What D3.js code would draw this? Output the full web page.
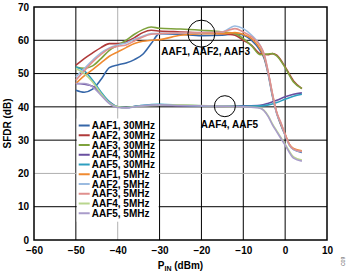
<!DOCTYPE html>
<html>
<head>
<meta charset="utf-8">
<script src="https://cdn.jsdelivr.net/npm/d3@7"></script>
<style>
  body { margin: 0; background: #fff; }
  svg text { font-family: "Liberation Sans", Arial, sans-serif; font-weight: bold; fill: #000; }
</style>
</head>
<body>
<div id="chart"></div>
<script>
// Series data: [P_IN (dBm), SFDR (dB)]
const aaf1_30 = [[-50,45],[-48,44.4],[-46,45.3],[-44,48.2],[-42,51.8],[-40,52.6],[-38,53.2],[-36,54.2],[-34,55.8],[-32,59],[-30,62],[-25,61.8],[-20,61.4],[-15,61.5],[-12,62],[-10,61.6],[-8,60],[-6,57],[-5,54.5],[-4,49.5],[-3,43],[-2,38],[-1,34.5],[0,31.5],[1,28.6],[2,27.2],[4,26.3]];
const aaf2_30 = [[-50,52.5],[-48,54.5],[-46,56.2],[-44,57.8],[-42,59],[-40,59],[-38,59.5],[-36,60.8],[-34,62.3],[-32,63],[-30,62.8],[-25,62.5],[-20,62.2],[-15,62],[-12,61.5],[-10,60],[-8,58.5],[-6,56],[-4,55.7],[-3,56],[-2,55.5],[0,52],[2,47.8],[4,45.5]];
const aaf3_30 = [[-50,52],[-48,51.6],[-46,52.3],[-44,54.5],[-42,57],[-40,58.5],[-38,60],[-36,61.8],[-34,63.2],[-32,64],[-30,63.6],[-25,63.4],[-20,63],[-15,62.5],[-12,62],[-10,60.5],[-8,58.3],[-6,55.7],[-4,55.9],[-3,56],[-2,55.3],[0,51.8],[2,47.5],[4,45.5]];
const aaf4_30 = [[-50,47],[-48,46.8],[-46,46.2],[-44,44],[-42,41.5],[-40,40],[-38,39.8],[-35,40.3],[-30,40.5],[-25,40.3],[-20,40.3],[-15,40.2],[-10,40.3],[-6,40.5],[-4,41.1],[-2,42],[0,43],[2,43.8],[4,44.2]];
const aaf5_30 = [[-50,52],[-48,50.8],[-46,48],[-44,44.5],[-42,41.5],[-40,40],[-38,39.8],[-35,40.3],[-30,40.8],[-25,40.5],[-20,40.3],[-15,40.2],[-10,40.2],[-6,40.3],[-4,40.6],[-2,41.3],[0,42.3],[2,43.2],[4,43.8]];
const aaf1_5 = [[-50,47],[-48,49.3],[-46,51.2],[-44,53.2],[-42,55.2],[-40,56.5],[-38,57.8],[-36,59],[-34,59.7],[-32,60],[-30,60.2],[-25,61.5],[-20,62],[-15,62],[-12,62.3],[-10,61.8],[-8,60.5],[-6,57.5],[-5,55],[-4,50],[-3,43.5],[-2,38.2],[-1,34.8],[0,31.8],[1,28.8],[2,27.5],[4,26.8]];
const aaf2_5 = [[-50,49],[-48,51.5],[-46,54],[-44,56.2],[-42,57.7],[-40,58.6],[-38,59.2],[-36,60.3],[-34,61.2],[-32,62],[-30,62],[-25,62.2],[-20,62.3],[-15,62.5],[-12,64.3],[-10,63.5],[-8,61.5],[-6,58.5],[-5,55.5],[-4,50],[-3,43.5],[-2,38],[-1,35],[0,31.5],[1,28.5],[2,27.2],[4,26.5]];
const aaf3_5 = [[-50,48],[-48,50.8],[-46,53.5],[-44,55.8],[-42,57.5],[-40,58.2],[-38,58.6],[-36,59.8],[-34,61],[-32,61.8],[-30,62],[-25,62.2],[-20,62.3],[-15,62.5],[-12,63.5],[-10,62.5],[-8,61],[-6,58.5],[-5,55.8],[-4,50.3],[-3,43.8],[-2,38.3],[-1,35.2],[0,31.7],[1,28.7],[2,27.3],[4,26.6]];
const aaf4_5 = [[-50,51.5],[-48,50],[-46,47.5],[-44,44],[-42,41.2],[-40,40],[-38,39.8],[-35,40.2],[-30,40.5],[-25,40.6],[-20,40.4],[-15,40.2],[-10,40],[-6,39.7],[-4,37.2],[-3,34.8],[-2,32.8],[0,28.8],[2,25],[4,24]];
const aaf5_5 = [[-50,47],[-48,47],[-46,46],[-44,43.5],[-42,41],[-40,39.8],[-38,39.7],[-35,40.2],[-30,40.6],[-25,40.4],[-20,40.3],[-15,40.2],[-10,40],[-6,39.6],[-4,37],[-3,34.5],[-2,32.5],[0,28.5],[2,24.6],[4,23.7]];

const seriesNames = ["AAF1, 30MHz","AAF2, 30MHz","AAF3, 30MHz","AAF4, 30MHz","AAF5, 30MHz",
                     "AAF1, 5MHz","AAF2, 5MHz","AAF3, 5MHz","AAF4, 5MHz","AAF5, 5MHz"];
const seriesData = [aaf1_30, aaf2_30, aaf3_30, aaf4_30, aaf5_30, aaf1_5, aaf2_5, aaf3_5, aaf4_5, aaf5_5];
const seriesColors = ["#3566a8","#b03a3a","#7ea23c","#6a50a0","#2e9fc0",
                      "#f08a30","#9bbbe0","#e0908e","#b9d68e","#a99cca"];

const xTicks = [-60,-50,-40,-30,-20,-10,0,10];
const yTicks = [0,10,20,30,40,50,60,70];

// Callout circles and their labels
const callouts = [
    {x: -20, y: 62, r: 13.5, label: "AAF1, AAF2, AAF3", lx: -19, ly: 55.5},
    {x: -14.4, y: 40.2, r: 10.5, label: "AAF4, AAF5", lx: -13.3, ly: 33.5}
];

const margin = {top: 7, right: 23, bottom: 34, left: 34};
const W = 350, H = 274;
const width = W - margin.left - margin.right;
const height = H - margin.top - margin.bottom;

const x = d3.scaleLinear().domain([-60, 10]).range([0, width]);
const y = d3.scaleLinear().domain([0, 70]).range([height, 0]);

const svg = d3.select("#chart").append("svg")
    .attr("width", W)
    .attr("height", H);

const g = svg.append("g")
    .attr("transform", `translate(${margin.left},${margin.top})`);

// Gridlines
g.append("g")
    .selectAll("line")
    .data(xTicks.slice(1, -1))
    .join("line")
        .attr("x1", d => x(d)).attr("x2", d => x(d))
        .attr("y1", 0).attr("y2", height)
        .attr("stroke", d => d === -40 ? "#b0b0b0" : "#000")
        .attr("stroke-width", 1);
g.append("g")
    .selectAll("line")
    .data(yTicks.slice(1, -1))
    .join("line")
        .attr("x1", 0).attr("x2", width)
        .attr("y1", d => y(d)).attr("y2", d => y(d))
        .attr("stroke", d => d === 20 ? "#b0b0b0" : "#000")
        .attr("stroke-width", 1);

// Frame
g.append("rect")
    .attr("width", width).attr("height", height)
    .attr("fill", "none").attr("stroke", "#000").attr("stroke-width", 1.5);

// Axes (labels only)
const xAxis = g.append("g")
    .attr("transform", `translate(0,${height})`)
    .call(d3.axisBottom(x).tickValues(xTicks).tickSize(0).tickPadding(7).tickFormat(d3.format("d")));
const yAxis = g.append("g")
    .call(d3.axisLeft(y).tickValues(yTicks).tickSize(0).tickPadding(5));
[xAxis, yAxis].forEach(a => {
    a.select(".domain").remove();
    a.selectAll("text").style("font-size", "10px").style("font-family", "'Liberation Sans', Arial, sans-serif").style("font-weight", "bold");
});

// Legend box
const legend = g.append("g").attr("transform", `translate(${x(-49.8)},${y(36.5)})`);
legend.append("rect")
    .attr("width", x(-30.2) - x(-49.8))
    .attr("height", y(5.5) - y(36.5))
    .attr("fill", "#fff");
seriesNames.forEach((name, i) => {
    const ly = 7 + i * 9.75;
    legend.append("line")
        .attr("x1", 2).attr("x2", 13)
        .attr("y1", ly).attr("y2", ly)
        .attr("stroke", seriesColors[i]).attr("stroke-width", 2);
    legend.append("text")
        .attr("x", 15).attr("y", ly + 3.5)
        .style("font-size", "10px")
        .text(name);
});

// Lines
const line = d3.line()
    .x(d => x(d[0]))
    .y(d => y(d[1]))
    .curve(d3.curveMonotoneX);
g.append("g")
    .selectAll("path")
    .data(seriesData)
    .join("path")
        .attr("d", d => line(d))
        .attr("fill", "none")
        .attr("stroke", (d, i) => seriesColors[i])
        .attr("stroke-width", 1.6);

// Callouts
callouts.forEach(c => {
    g.append("circle")
        .attr("cx", x(c.x)).attr("cy", y(c.y)).attr("r", c.r)
        .attr("fill", "none").attr("stroke", "#000").attr("stroke-width", 1);
    g.append("text")
        .attr("x", x(c.lx)).attr("y", y(c.ly))
        .attr("text-anchor", "middle")
        .style("font-size", "10px")
        .text(c.label);
});

// Axis titles
svg.append("text")
    .attr("transform", `translate(11,${margin.top + height / 2}) rotate(-90)`)
    .attr("text-anchor", "middle")
    .style("font-size", "10px")
    .text("SFDR (dB)");
const xt = svg.append("text")
    .attr("x", margin.left + width / 2)
    .attr("y", 269)
    .attr("text-anchor", "middle")
    .style("font-size", "10px");
xt.append("tspan").text("P");
xt.append("tspan").attr("dy", 2).style("font-size", "7px").text("IN");
xt.append("tspan").attr("dy", -2).text(" (dBm)");

// Figure code
svg.append("text")
    .attr("transform", "translate(345,266) rotate(-90)")
    .style("font-size", "5px")
    .style("font-weight", "normal")
    .style("fill", "#555")
    .text("C09");
</script>
</body>
</html>
